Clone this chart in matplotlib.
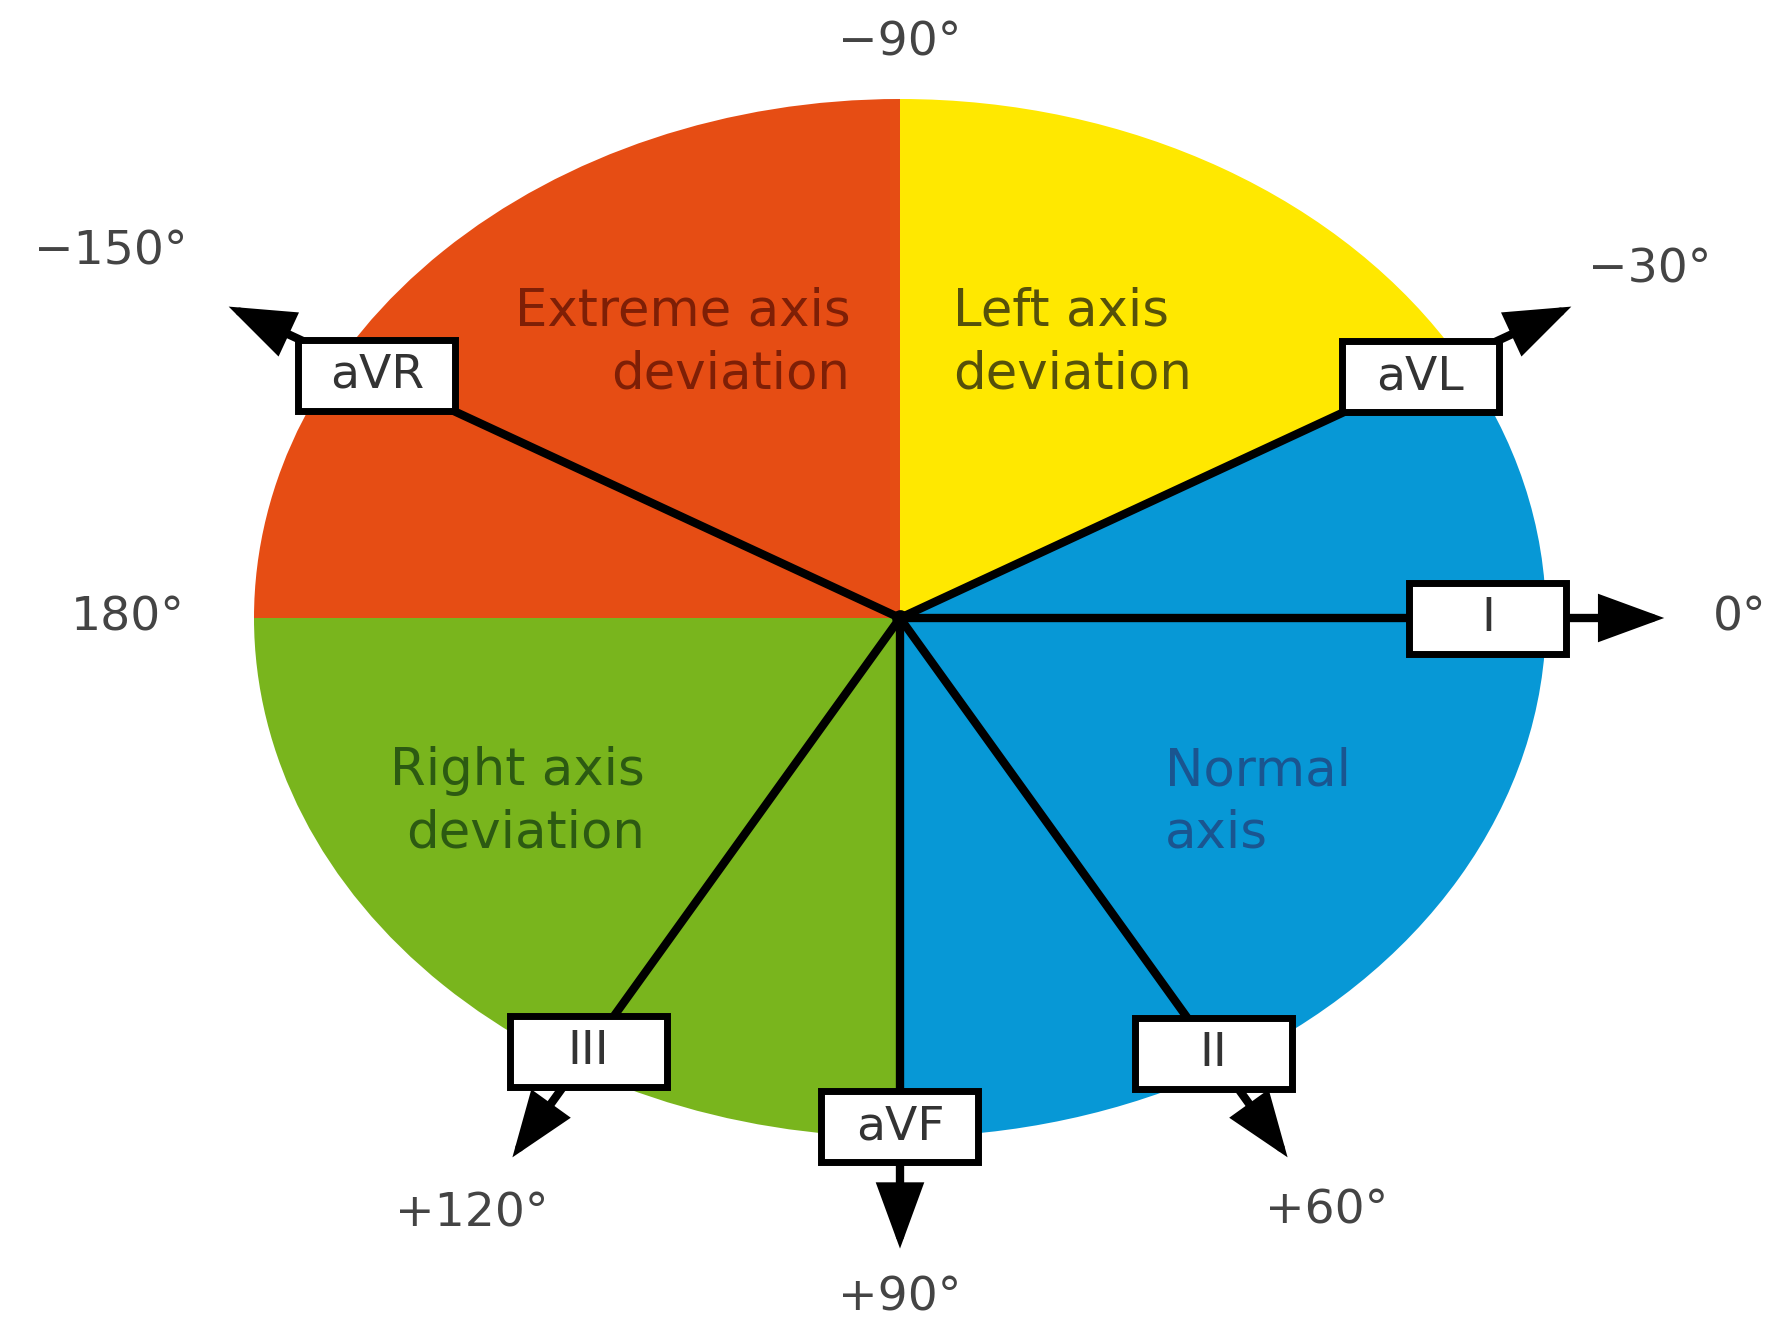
# ECG frontal-plane axis wheel
import numpy as np
import matplotlib.pyplot as plt
from matplotlib.patches import Wedge, Rectangle

# sectors of the wheel (angles in degrees, ECG convention: +90 points down)
sector_names = ['Extreme axis\ndeviation', 'Left axis\ndeviation', 'Normal\naxis', 'Right axis\ndeviation']
sector_start = [-180, -90, -30, 90]
sector_end = [-90, -30, 90, 180]
sector_colors = ['#e64d14', '#ffe800', '#0798d6', '#79b51d']
sector_text_colors = ['#7e1f06', '#56510a', '#1a5590', '#2c5a12']

# leads
lead_names = ['aVR', 'aVL', 'I', 'II', 'aVF', 'III']
lead_angles = [-150, -30, 0, 60, 90, 120]

# angle labels round the wheel
tick_angles = [-90, -150, -30, 180, 0, 120, 90, 60]
tick_labels = ['\u221290\u00b0', '\u2212150\u00b0', '\u221230\u00b0', '180\u00b0',
               '0\u00b0', '+120\u00b0', '+90\u00b0', '+60\u00b0']

# --- layout (pixels of the 1773x1324 picture) ---
W, H = 1773, 1324
CX, CY = 900, 618      # centre of wheel
RX, RY = 646, 519      # half axes of the ellipse

box_r = {'aVR': 0.935, 'aVL': 0.93, 'I': 0.91, 'II': 0.97, 'aVF': 0.98, 'III': 0.965}
tip_r = {'aVR': 1.2, 'aVL': 1.2, 'I': 1.183, 'II': 1.2, 'aVF': 1.215, 'III': 1.2}
tick_r = {-90: 1.108, -150: 1.41, -30: 1.34, 180: 1.195, 0: 1.30, 120: 1.325, 90: 1.31, 60: 1.32}
# anchor (x, y, ha) of the sector captions, in wheel units
sector_pos = [(-0.077, -0.53, 'right'), (0.082, -0.53, 'left'),
              (0.41, 0.355, 'left'), (-0.395, 0.355, 'right')]


def polar(angle, r):
    t = np.deg2rad(angle)
    return r * np.cos(t), r * np.sin(t)


def main():
    fig = plt.figure(figsize=(W / 100, H / 100), dpi=100)
    ax = fig.add_axes([0, 0, 1, 1])
    # one unit = RX px horizontally and RY px vertically, y grows downwards
    ax.set_xlim(-CX / RX, (W - CX) / RX)
    ax.set_ylim((H - CY) / RY, -CY / RY)
    ax.axis('off')

    # coloured sectors
    for a0, a1, c in zip(sector_start, sector_end, sector_colors):
        ax.add_patch(Wedge((0, 0), 1, a0, a1, facecolor=c, edgecolor='none', zorder=1))

    # sector captions
    for name, col, (x, y, ha) in zip(sector_names, sector_text_colors, sector_pos):
        ax.text(x, y, name, color=col, fontsize=37, ha=ha, va='center',
                multialignment=ha, linespacing=1.32, zorder=3)

    # lead lines with arrows and boxes
    bw, bh = 157 / RX, 71 / RY
    for name, ang in zip(lead_names, lead_angles):
        tip = polar(ang, tip_r[name])
        ax.annotate('', xy=tip, xytext=(0, 0),
                    arrowprops=dict(arrowstyle='-|>,head_length=0.9,head_width=0.33',
                                    mutation_scale=40, lw=6, color='black',
                                    shrinkA=0, shrinkB=0, joinstyle='miter'),
                    zorder=4)
        bx, by = polar(ang, box_r[name])
        ax.add_patch(Rectangle((bx - bw / 2, by - bh / 2), bw, bh, facecolor='white',
                               edgecolor='black', lw=5, zorder=5))
        ax.text(bx, by, name, fontsize=34, color='#333333', ha='center', va='center', zorder=6)

    ax.plot(0, 0, 'o', color='black', ms=11, zorder=4)

    # angle labels
    for ang, lab in zip(tick_angles, tick_labels):
        x, y = polar(ang, tick_r[ang])
        ax.text(x, y, lab, fontsize=34, color='#444444', ha='center', va='center', zorder=6)

    fig.savefig('out.png', dpi=100)


if __name__ == '__main__':
    main()
